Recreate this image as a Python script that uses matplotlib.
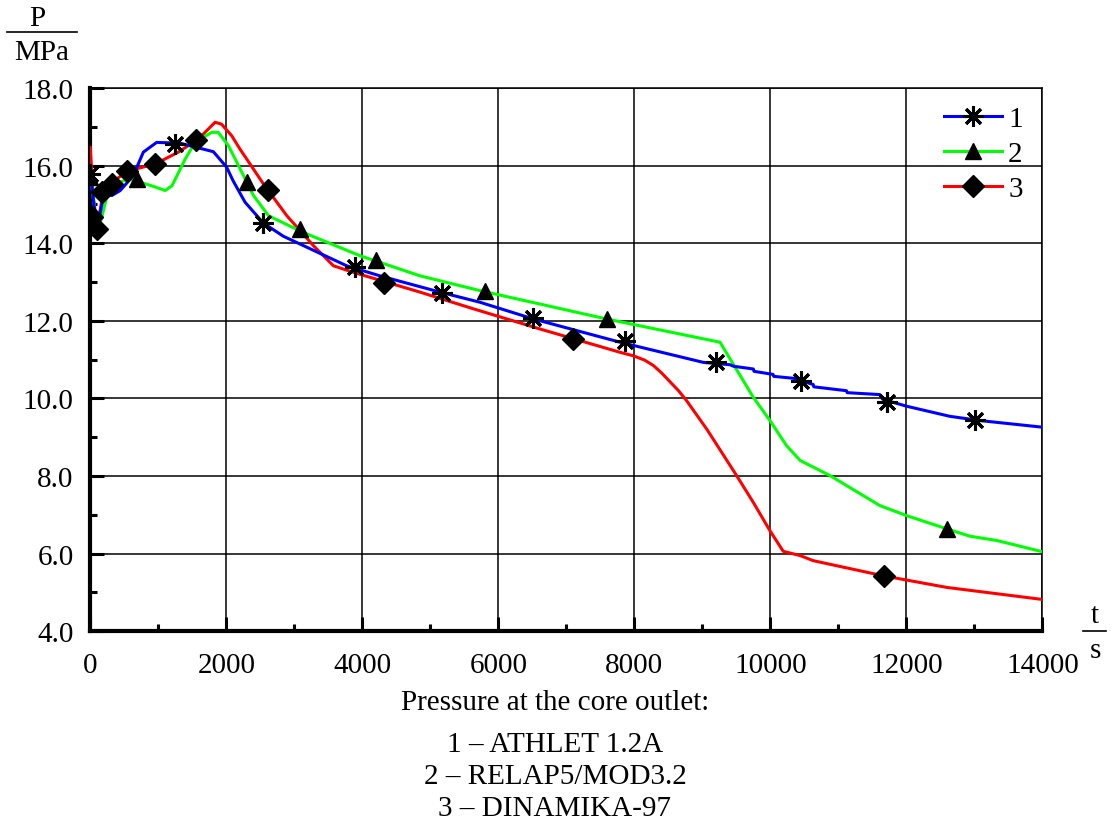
"""Pressure at the core outlet: ATHLET / RELAP5 / DINAMIKA comparison."""

import matplotlib
matplotlib.use("Agg")
import matplotlib.pyplot as plt
from matplotlib.lines import Line2D

plt.rcParams["font.family"] = ["Liberation Serif", "DejaVu Serif"]
plt.rcParams["mathtext.fontset"] = "stix"

# --- data ----------------------------------------------------------------------------------------

# 1 - ATHLET 1.2A (blue)
t1 = [0, 40, 100, 190, 240, 315, 440, 630, 780, 975, 1320, 1810, 2005, 2100, 2275, 2545,
      2840, 3280, 3770, 4260, 5145, 5730, 6515, 7790, 9015, 9405, 9460, 9750, 9760, 10040,
      10050, 10340, 10630, 10640, 11120, 11130, 11610, 11650, 12005, 12640, 13085, 14000]
p1 = [15.85, 15.2, 14.35, 15.2, 15.27, 15.23, 15.36, 15.74, 16.35, 16.6, 16.58, 16.36,
      15.96, 15.61, 15.06, 14.52, 14.18, 13.82, 13.42, 13.16, 12.74, 12.48, 12.05, 11.45,
      10.93, 10.87, 10.83, 10.76, 10.7, 10.62, 10.57, 10.52, 10.36, 10.3, 10.2, 10.15,
      10.1, 9.98, 9.8, 9.54, 9.43, 9.26]

# 2 - RELAP5/MOD3.2 (green)
t2 = [0, 60, 110, 165, 240, 365, 560, 905, 1100, 1200, 1395, 1540, 1785, 1880, 2030,
      2105, 2400, 2620, 3130, 3965, 4850, 5730, 7590, 9260, 9750, 9995, 10240, 10440,
      10880, 11610, 12005, 12595, 12935, 13330, 14000]
p2 = [15.75, 15.0, 14.3, 14.65, 15.19, 15.53, 15.66, 15.48, 15.36, 15.48, 16.17, 16.6,
      16.86, 16.86, 16.52, 16.26, 15.23, 14.71, 14.28, 13.68, 13.16, 12.78, 12.05, 11.45,
      10.03, 9.43, 8.78, 8.4, 8.01, 7.24, 6.98, 6.64, 6.45, 6.34, 6.05]

# 3 - DINAMIKA-97 (red)
t3 = [0, 40, 95, 190, 315, 560, 950, 1295, 1590, 1835, 1930, 2080, 2200, 2350, 2545,
      2890, 3280, 3575, 3870, 4850, 5635, 6615, 7790, 7985, 8150, 8280, 8400, 8525, 8650,
      8770, 9065, 9505, 9750, 9995, 10190, 10440, 10630, 11660, 12595, 14000]
p3 = [16.47, 15.2, 14.37, 15.31, 15.57, 15.87, 16.04, 16.35, 16.69, 17.12, 17.07, 16.77,
      16.43, 16.04, 15.53, 14.71, 13.94, 13.42, 13.25, 12.74, 12.31, 11.79, 11.19, 11.1,
      10.99, 10.85, 10.66, 10.43, 10.2, 9.94, 9.21, 8.01, 7.32, 6.59, 6.06, 5.95, 5.82,
      5.43, 5.13, 4.82]

# marker positions
m1_t = [0, 1250, 2535, 3890, 5170, 6515, 7865, 9200, 10450, 11710, 13010]
m1_p = [15.79, 16.56, 14.52, 13.38, 12.72, 12.07, 11.49, 10.93, 10.46, 9.9, 9.45]
m2_t = [0, 680, 2300, 3085, 4200, 5805, 7605, 12605]
m2_p = [15.7, 15.66, 15.59, 14.37, 13.58, 12.78, 12.05, 6.64]
m3_t = [20, 95, 165, 315, 535, 950, 1550, 2620, 4315, 7095, 11670]
m3_p = [14.67, 14.37, 15.31, 15.53, 15.87, 16.04, 16.66, 15.38, 12.98, 11.53, 5.42]

labels = ["1", "2", "3"]
notes = ["Pressure at the core outlet:", "1 \u2013 ATHLET 1.2A", "2 \u2013 RELAP5/MOD3.2",
         "3 \u2013 DINAMIKA-97"]

# --- plot ----------------------------------------------------------------------------------------

fs = 21
fig = plt.figure(figsize=(11.11, 8.28), dpi=100)
ax = fig.add_axes([0.0813, 0.2364, 0.9382 - 0.0813, 0.8924 - 0.2364])

ax.plot(t3, p3, c="#ff0000", lw=2.2, zorder=3)
ax.plot(t2, p2, c="#00ff00", lw=2.2, zorder=3)
ax.plot(t1, p1, c="#0000ff", lw=2.2, zorder=3)

star = (8, 2, 0)
kw = dict(ls="none", c="k", zorder=5)
ax.plot(m1_t, m1_p, marker=star, ms=15, mew=2.2, **kw)
ax.plot(m2_t, m2_p, marker="^", ms=12, **kw)
ax.plot(m3_t, m3_p, marker="D", ms=11, **kw)

ax.set_xlim(0, 14000)
ax.set_ylim(4, 18)
ax.set_xticks(range(0, 14001, 2000))
ax.set_xticks(range(0, 14001, 1000), minor=True)
ax.set_yticks([4, 6, 8, 10, 12, 14, 16, 18])
ax.set_yticks(range(4, 19), minor=True)
ax.set_yticklabels([f"{v:.1f}" for v in [4, 6, 8, 10, 12, 14, 16, 18]])
ax.grid(True, which="major", c="k", lw=1.1)
ax.tick_params(which="major", direction="in", length=10, width=2.2, labelsize=fs, pad=12)
ax.tick_params(which="minor", direction="in", length=5, width=2.2)
ax.tick_params(axis="x", pad=15)
for side in ["left", "bottom"]:
    ax.spines[side].set_linewidth(3)
for side in ["top", "right"]:
    ax.spines[side].set_linewidth(1.1)

handles = [
    Line2D([], [], c="#0000ff", lw=2.2, marker=star, ms=15, mew=2.2, mec="k", mfc="k"),
    Line2D([], [], c="#00ff00", lw=2.2, marker="^", ms=12, mec="k", mfc="k"),
    Line2D([], [], c="#ff0000", lw=2.2, marker="D", ms=11, mec="k", mfc="k"),
]
ax.legend(handles, labels, loc="upper right", bbox_to_anchor=(1.004, 1.01), frameon=False,
          fontsize=fs, handlelength=2.0, handletextpad=0.2, labelspacing=0.29,
          borderaxespad=0.4)

# axis unit labels
fig.text(37 / 1111, 1 - 19 / 828, "P", ha="center", va="center", fontsize=fs)
fig.add_artist(Line2D([7 / 1111, 77 / 1111], [1 - 33 / 828] * 2, c="k", lw=1.2))
fig.text(42 / 1111, 1 - 53 / 828, "MPa", ha="center", va="center", fontsize=fs)
fig.text(1095 / 1111, 1 - 616 / 828, "t", ha="center", va="center", fontsize=fs)
fig.add_artist(Line2D([1083 / 1111, 1106 / 1111], [1 - 632 / 828] * 2, c="k", lw=1.2))
fig.text(1095 / 1111, 1 - 651 / 828, "s", ha="center", va="center", fontsize=fs)

# caption
for y, s in zip([703, 745, 777, 809], notes):
    fig.text(555 / 1111, 1 - y / 828, s, ha="center", va="center", fontsize=fs)

fig.savefig("out.png", dpi=100)
